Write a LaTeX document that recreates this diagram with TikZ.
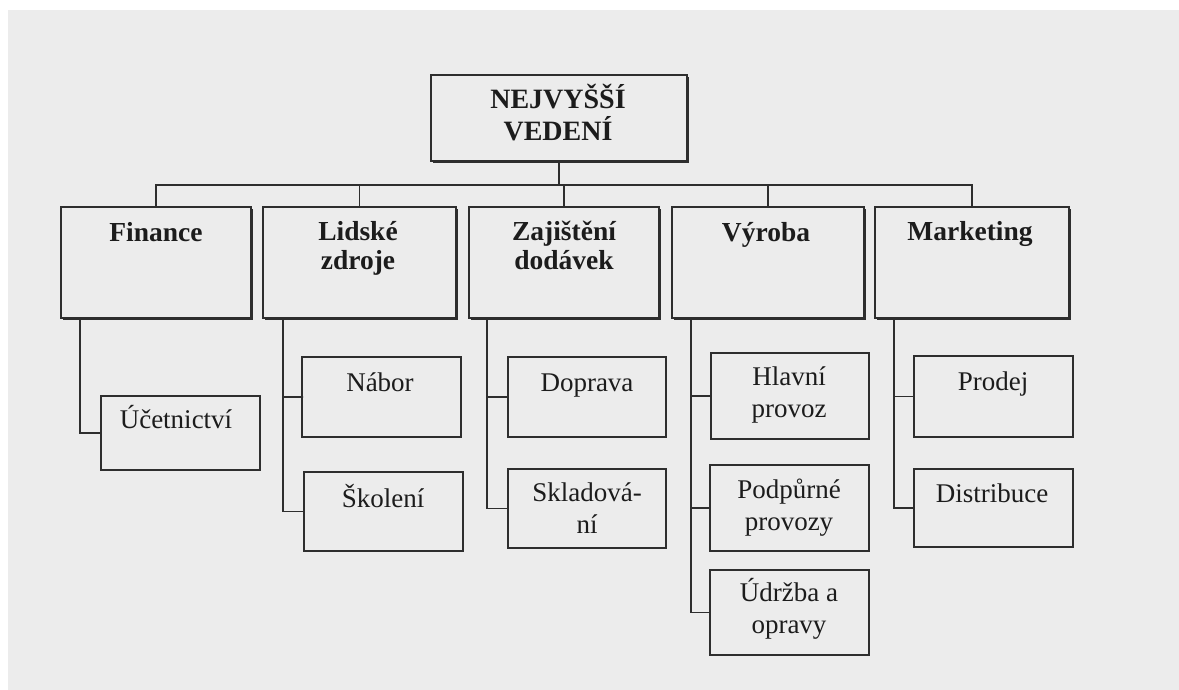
\documentclass[tikz,border=0pt]{standalone}
\usepackage{fontspec}
\setmainfont{Liberation Serif}
\usetikzlibrary{shadows}
\definecolor{bg}{HTML}{ECECEC}
\definecolor{ln}{HTML}{2E2E2E}
\definecolor{tx}{HTML}{1C1C1C}
\tikzset{
  box/.style={draw=ln, line width=1.6pt, fill=bg, inner sep=0pt, anchor=north west},
  mainbox/.style={box, general shadow={fill=ln, shadow xshift=2.6pt, shadow yshift=-2.6pt}},
  conn/.style={draw=ln, line width=1.5pt},
  hd/.style={anchor=base, inner sep=0pt, align=center, text=tx, font=\fontsize{27.5}{29}\selectfont\bfseries},
  tp/.style={hd, font=\fontsize{28}{32}\selectfont\bfseries},
  sub/.style={anchor=base, inner sep=0pt, align=center, text=tx, font=\fontsize{27}{32}\selectfont},
}
\begin{document}
\begin{tikzpicture}[x=1pt,y=-1pt]
\useasboundingbox (0,0) rectangle (1179,689);
\fill[bg] (-5,-5) rectangle (1185,695);
\fill[white] (-5,-5) rectangle (1185,10);
\fill[white] (-5,-5) rectangle (8,695);

% top
\node[mainbox, minimum width=256pt, minimum height=86pt] (top) at (430,74) {};
% level 1
\node[mainbox, minimum width=190pt, minimum height=111pt] (fin) at (60,206) {};
\node[mainbox, minimum width=193pt, minimum height=111pt] (lid) at (262,206) {};
\node[mainbox, minimum width=190pt, minimum height=111pt] (zaj) at (468,206) {};
\node[mainbox, minimum width=192pt, minimum height=111pt] (vyr) at (671,206) {};
\node[mainbox, minimum width=194pt, minimum height=111pt] (mar) at (874,206) {};
% level 2
\node[box, minimum width=159pt, minimum height=74pt] (uce) at (100,395) {};
\node[box, minimum width=159pt, minimum height=80pt] (nab) at (301,356) {};
\node[box, minimum width=159pt, minimum height=79pt] (sko) at (303,471) {};
\node[box, minimum width=158pt, minimum height=80pt] (dop) at (507,356) {};
\node[box, minimum width=158pt, minimum height=79pt] (skl) at (507,468) {};
\node[box, minimum width=158pt, minimum height=86pt] (hla) at (710,352) {};
\node[box, minimum width=159pt, minimum height=86pt] (pod) at (709,464) {};
\node[box, minimum width=159pt, minimum height=85pt] (udr) at (709,569) {};
\node[box, minimum width=159pt, minimum height=81pt] (pro) at (913,355) {};
\node[box, minimum width=159pt, minimum height=78pt] (dis) at (913,468) {};

% texts (anchor = baseline of last line)
\node[tp] (ttop) at (558,140) {NEJVYŠŠÍ\\VEDENÍ};
\node[hd] (tfin) at (156,241) {Finance};
\node[hd] (tlid) at (358,269) {Lidské\\zdroje};
\node[hd] (tzaj) at (564,269) {Zajištění\\dodávek};
\node[hd] (tvyr) at (766,241) {Výroba};
\node[hd] (tmar) at (970,240) {Marketing};
\node[sub] (tuce) at (176,428) {Účetnictví};
\node[sub] (tnab) at (380,391) {Nábor};
\node[sub] (tsko) at (383,507) {Školení};
\node[sub] (tdop) at (587,391) {Doprava};
\node[sub] (tskl) at (587,533) {Skladová-\\ní};
\node[sub] (thla) at (789,417) {Hlavní\\provoz};
\node[sub] (tpod) at (789,530) {Podpůrné\\provozy};
\node[sub] (tudr) at (789,633) {Údržba a\\opravy};
\node[sub] (tpro) at (993,390) {Prodej};
\node[sub] (tdis) at (992,502) {Distribuce};

% connectors
\coordinate (bus) at (top.south |- 0,185);
\draw[conn] (top.south) -- (bus);
\draw[conn] (fin.north) |- (bus);
\draw[conn] (lid.north) |- (bus);
\draw[conn] (zaj.north) -- (bus -| zaj.north);
\draw[conn] (vyr.north) |- (bus);
\draw[conn] (mar.north) |- (bus);

\draw[conn] ([xshift=20pt]fin.south west) |- (uce.west);
\draw[conn] ([xshift=21pt]lid.south west) |- (sko.west);
\draw[conn] (nab.west) -- (nab.west -| sko.west) -- ++(-20,0);
\draw[conn] ([xshift=19pt]zaj.south west) |- (skl.west);
\draw[conn] ([xshift=19pt]zaj.south west |- dop.west) -- (dop.west);
\draw[conn] ([xshift=20pt]vyr.south west) |- (udr.west);
\draw[conn] ([xshift=20pt]vyr.south west |- hla.west) -- (hla.west);
\draw[conn] ([xshift=20pt]vyr.south west |- pod.west) -- (pod.west);
\draw[conn] ([xshift=20pt]mar.south west) |- (dis.west);
\draw[conn] ([xshift=20pt]mar.south west |- pro.west) -- (pro.west);
\end{tikzpicture}
\end{document}
